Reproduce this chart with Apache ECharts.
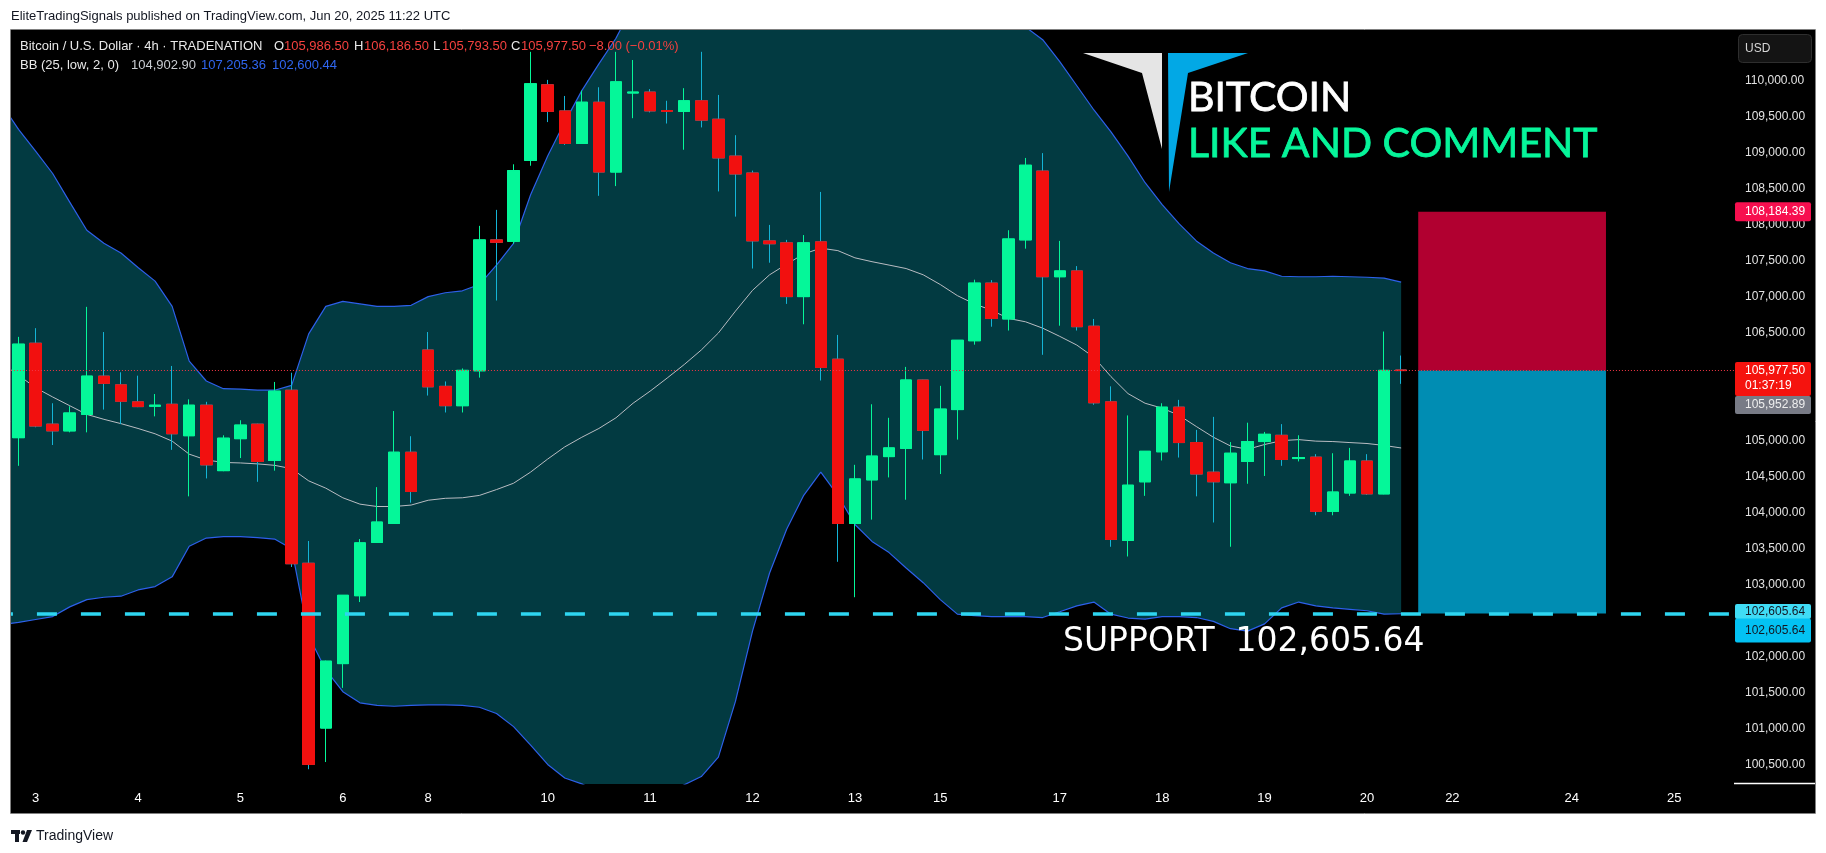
<!DOCTYPE html>
<html><head><meta charset="utf-8">
<script src="https://cdn.jsdelivr.net/npm/echarts@6/dist/echarts.min.js"></script>
<style>html,body{margin:0;padding:0;background:#fff;overflow:hidden}#c{width:1826px;height:853px}</style>
</head><body><div id="c"></div>
<script>
// ---- data (4h candles, Jun 3 .. Jun 20, 2025) ----
const openP  = [105046,106358,105234,105140,105369,105901,105780,105544,105483,105510,105073,105497,104588,105032,105234,104729,105705,103302,101013,101908,102851,103591,103854,104844,106264,105759,105490,105975,107793,107773,108897,109947,109584,109132,109705,108735,109833,109846,109590,109577,109725,109469,108957,108722,107779,107752,107005,107766,106136,103854,104460,104783,104897,105847,104810,105436,106392,107193,106695,107793,108749,107281,107362,106594,105544,103618,104433,104850,105470,104978,104567,104420,104716,104992,105079,104756,104776,104022,104278,104722,104265,105986.5];
const highP  = [106446,106567,105524,105483,106863,106513,105954,105907,105652,106042,105578,105544,105079,105288,105240,105820,105948,103611,101950,102860,103638,104359,105416,105066,106513,105827,106008,107988,108210,108843,110405,110015,109792,109866,109913,110405,110291,109887,109725,109900,110405,109806,109247,108755,108001,107793,107860,108459,106473,104669,105510,105322,106029,105850,105766,106400,107240,107234,107927,108931,108998,107779,107429,106695,105759,105355,104860,105524,105571,105154,105335,104985,105254,105126,105234,105079,104817,104830,104904,104817,106520,106186.5];
const lowP   = [104655,105190,104944,105120,105120,105436,105234,105470,105342,104877,104231,104480,104580,104763,104433,104588,103250,100441,100541,101571,102763,103585,103850,104143,105631,105396,105396,105880,106951,107739,108823,109429,109112,109132,108405,108540,109483,109563,109409,109045,109355,108466,108116,107395,107476,106904,106621,105840,103322,102830,103908,104494,104184,104743,104541,105019,106338,106587,106534,107671,106197,106601,106534,105503,103531,103396,104238,104729,104770,104231,103868,103531,104406,104514,104655,104716,103968,103968,104238,104251,104260,105793.5];
const closeP = [106345,105207,105140,105389,105901,105800,105551,105477,105497,105100,105497,104668,105039,105221,104716,105692,103295,100508,101942,102857,103585,103874,104844,104298,105752,105490,105981,107793,107759,108755,109961,109577,109132,109705,108735,109988,109846,109584,109577,109725,109456,108931,108708,107779,107739,107005,107752,106022,103854,104473,104790,104904,105847,105147,105443,106399,107193,106702,107806,108830,107281,107362,106587,105530,103632,104386,104857,105470,104978,104541,104433,104830,104992,105093,104743,104770,104022,104291,104722,104265,105981,105977.5];
// Bollinger Bands (25, low, 2): first value is the bar just left of the visible range
const bbUpper = [109680,109328,109025,108715,108318,107927,107746,107611,107409,107220,106870,106109,105833,105726,105719,105705,105705,105773,106487,106870,106938,106904,106870,106870,106884,107005,107059,107086,107173,107443,107746,108419,108957,109429,109866,110237,110594,111048,111364,111648,111899,112189,112391,112223,111825,111449,111139,110949,110788,111043,111248,111375,111436,111555,111584,111549,111443,111233,111071,110843,110749,110573,110270,109934,109597,109294,108957,108587,108284,108015,107779,107611,107476,107395,107362,107288,107281,107281,107288,107281,107274,107261,107205.36];
const bbBasis = [106080,105914,105739,105611,105490,105369,105301,105241,105174,105100,104998,104817,104736,104702,104695,104682,104662,104615,104446,104345,104211,104123,104090,104090,104110,104177,104204,104211,104244,104325,104413,104568,104749,104918,105052,105174,105322,105524,105692,105874,106062,106264,106500,106803,107092,107308,107456,107597,107678,107644,107544,107490,107443,107395,107308,107173,107019,106904,106816,106702,106655,106567,106453,106332,106163,105894,105658,105524,105456,105355,105201,105052,104931,104884,104951,105005,105019,104998,104992,104978,104965,104938,104902.90];
const bbLower = [102450,102480,102521,102561,102696,102797,102830,102844,102931,102978,103113,103537,103652,103672,103672,103658,103638,103504,102292,101820,101518,101363,101329,101316,101329,101336,101336,101329,101302,101215,101033,100777,100508,100319,100238,100111,100050,100000,100020,100100,100225,100339,100609,101383,102359,103167,103773,104245,104568,104245,103840,103605,103450,103235,103032,102797,102595,102575,102561,102561,102561,102548,102628,102709,102763,102595,102541,102527,102561,102561,102548,102494,102393,102359,102460,102682,102763,102709,102682,102662,102642,102595,102600.44];
const dayLabels   = ['3','4','5','6','8','10','11','12','13','15','17','18','19','20','22','24','25'];
const dayLabelIdx = [1,7,13,19,24,31,37,43,49,54,61,67,73,79,84,91,97];
const yTicks = [100500,101000,101500,102000,102500,103000,103500,104000,104500,105000,105500,106000,106500,107000,107500,108000,108500,109000,109500,110000];
const supportLevel = 102605.64;
const lastPrice = 105977.50;
const targetPrice = 108184.39;
const markPrice = 105952.89;
const positionStart = 82, positionEnd = 93;
const slotCount = 101;

// ---- build (slot 0 = the partly hidden bar before candle 0) ----
const categories = [];
for (let i = 0; i <= slotCount; i++) categories.push(String(i - 1));
const labelMap = {};
dayLabelIdx.forEach((idx, k) => { labelMap[idx + 1] = dayLabels[k]; });
const fmt = v => Number(v).toLocaleString('en-US', {minimumFractionDigits: 2, maximumFractionDigits: 2});

const fullCandles = ['-'].concat(openP.map((o, i) => [o, closeP[i], lowP[i], highP[i]]));
const bodyCandles = ['-'].concat(openP.map((o, i) => [o, closeP[i], Math.min(o, closeP[i]), Math.max(o, closeP[i])]));
const bandWidth = bbUpper.map((u, i) => u - bbLower[i]);

const GREEN = '#05f799', RED = '#f2100f', CYAN = '#14b4d6';
const FONT = '"Liberation Sans", Arial, sans-serif';
const SLOT = 1724 / 101;

const chart = echarts.init(document.getElementById('c'), null, {renderer: 'canvas'});
chart.setOption({
  animation: false,
  backgroundColor: '#ffffff',
  grid: {left: 10 - SLOT, top: 30, width: 1724 + SLOT, height: 754, containLabel: false, outerBoundsMode: 'none'},
  xAxis: {
    type: 'category', data: categories, boundaryGap: true,
    axisLine: {show: false}, axisTick: {show: false}, splitLine: {show: false},
    axisLabel: {
      interval: (idx) => labelMap[idx] !== undefined,
      formatter: (val, idx) => labelMap[idx] || '',
      color: '#ffffff', fontSize: 13, fontFamily: FONT, margin: 8, hideOverlap: false
    }
  },
  yAxis: {
    type: 'value', position: 'right', min: 100236, max: 110708, scale: true,
    axisLine: {show: false}, axisTick: {show: false}, splitLine: {show: false},
    axisLabel: {customValues: yTicks, formatter: v => fmt(v), color: '#e2e2e2', fontSize: 12, fontFamily: FONT, margin: 11}
  },
  series: [
    {name: 'bbBase', type: 'line', data: bbLower, stack: 'bb', symbol: 'none', silent: true,
     lineStyle: {width: 0, opacity: 0}, z: 1},
    {name: 'bbFill', type: 'line', data: bandWidth, stack: 'bb', symbol: 'none', silent: true,
     lineStyle: {width: 0, opacity: 0}, areaStyle: {color: '#023a41', opacity: 1}, z: 1},
    {name: 'upper', type: 'line', data: bbUpper, symbol: 'none', silent: true,
     lineStyle: {color: '#2d60ea', width: 1.2}, z: 2},
    {name: 'lower', type: 'line', data: bbLower, symbol: 'none', silent: true,
     lineStyle: {color: '#2d60ea', width: 1.2}, z: 2},
    {name: 'basis', type: 'line', data: bbBasis, symbol: 'none', silent: true,
     lineStyle: {color: '#b9bcc2', width: 1}, z: 2},
    {name: 'wicks', type: 'candlestick', data: fullCandles, barWidth: 12, silent: true,
     itemStyle: {color: GREEN, color0: RED, borderColor: GREEN, borderColor0: CYAN, borderWidth: 1}, z: 3},
    {name: 'bodies', type: 'candlestick', data: bodyCandles, barWidth: 12, silent: true,
     itemStyle: {color: GREEN, color0: RED, borderColor: GREEN, borderColor0: RED, borderWidth: 1}, z: 4},
    {name: 'position', type: 'line', data: [], symbol: 'none', silent: true, z: 4,
     markArea: {silent: true, data: [
       [{xAxis: String(positionStart), yAxis: targetPrice, itemStyle: {color: '#b10030', opacity: 1}},
        {xAxis: String(positionEnd), yAxis: lastPrice}],
       [{xAxis: String(positionStart), yAxis: lastPrice, itemStyle: {color: '#008db3', opacity: 1}},
        {xAxis: String(positionEnd), yAxis: supportLevel}]
     ]}},
    {name: 'levels', type: 'line', data: [], symbol: 'none', silent: true, z: 6,
     markLine: {silent: true, symbol: ['none', 'none'], label: {show: false}, data: [
       {yAxis: supportLevel, lineStyle: {color: '#2ed6f1', width: 3.5, type: [20, 24]}},
       {yAxis: lastPrice, lineStyle: {color: '#f23645', width: 1, type: [1, 2]}}
     ]}}
  ]
});

// ---- overlay (panel, legend, tags, logo) ----
const yPx = v => chart.convertToPixel({yAxisIndex: 0}, v);
const yT = yPx(targetPrice), yL = yPx(lastPrice), yS = yPx(supportLevel);
const txt = (text, x, y, fill, size) => ({
  type: 'text', x: x, y: y, z: 100,
  style: {text: text, fill: fill, font: (size || 13) + 'px ' + FONT, align: 'left', verticalAlign: 'middle'}
});
const tag = (x, y, w, h, fill, lines, textFill) => {
  const els = [{type: 'rect', z: 90, shape: {x: x, y: y, width: w, height: h, r: 2}, style: {fill: fill}}];
  lines.forEach(l => els.push(txt(l[0], 1745, l[1], textFill, 12)));
  return els;
};

const g = [
  // panel background
  {type: 'rect', z: -100, shape: {x: 11, y: 30, width: 1804, height: 783}, style: {fill: '#000000'}},
  {type: 'rect', z: 98, shape: {x: 0, y: 0, width: 10.5, height: 853}, style: {fill: '#ffffff'}},
  {type: 'rect', z: 99, shape: {x: 10.5, y: 29.5, width: 1805, height: 784}, style: {fill: 'none', stroke: '#808080', lineWidth: 1}},
  {type: 'line', z: 99, shape: {x1: 1734, y1: 783.5, x2: 1815, y2: 783.5}, style: {stroke: '#ffffff', lineWidth: 1.5}},
  // page header
  txt('EliteTradingSignals published on TradingView.com, Jun 20, 2025 11:22 UTC', 11, 16, '#131722', 13),
  // legend line 1
  txt('Bitcoin / U.S. Dollar \u00b7 4h \u00b7 TRADENATION', 20, 46.5, '#e8e8e8', 13),
  txt('O', 274, 46.5, '#e8e8e8', 13), txt('105,986.50', 284, 46.5, '#f5413f', 13),
  txt('H', 354, 46.5, '#e8e8e8', 13), txt('106,186.50', 364, 46.5, '#f5413f', 13),
  txt('L', 433, 46.5, '#e8e8e8', 13), txt('105,793.50', 442, 46.5, '#f5413f', 13),
  txt('C', 511, 46.5, '#e8e8e8', 13), txt('105,977.50', 521, 46.5, '#f5413f', 13),
  txt('\u22128.00 (\u22120.01%)', 589, 46.5, '#f5413f', 13),
  // legend line 2
  txt('BB (25, low, 2, 0)', 20, 65.5, '#e8e8e8', 13),
  txt('104,902.90', 131, 65.5, '#c9ccd2', 13),
  txt('107,205.36', 201, 65.5, '#2f66f0', 13),
  txt('102,600.44', 272, 65.5, '#2f66f0', 13),
  // USD box
  {type: 'rect', z: 90, shape: {x: 1738.5, y: 34.5, width: 73, height: 28, r: 4}, style: {fill: '#141414', stroke: '#2e2e2e', lineWidth: 1}},
  txt('USD', 1745, 48.5, '#d6d6d6', 12),
  // logo
  {type: 'polygon', z: 80, shape: {points: [[1083, 53], [1162, 53], [1162, 149], [1142, 73]]}, style: {fill: '#e5e5e5'}},
  {type: 'polygon', z: 80, shape: {points: [[1168, 53], [1248, 53], [1188, 73], [1169, 192]]}, style: {fill: '#02a8e5'}},
  {type: 'text', z: 100, x: 1188, y: 98, style: {text: 'BITCOIN', fill: '#ffffff', font: '41px Lato, "DejaVu Sans", sans-serif', align: 'left', verticalAlign: 'middle', stroke: '#ffffff', lineWidth: 0.8}},
  {type: 'text', z: 100, x: 1188, y: 144, style: {text: 'LIKE AND COMMENT', fill: '#06f59a', font: '41px Lato, "DejaVu Sans", sans-serif', align: 'left', verticalAlign: 'middle', stroke: '#06f59a', lineWidth: 0.8}},
  // support annotation
  {type: 'text', z: 100, x: 1063, y: 642, style: {text: 'SUPPORT  102,605.64', fill: '#ffffff', font: '33px "DejaVu Sans", sans-serif', align: 'left', verticalAlign: 'middle'}},
  // TradingView footer
  {type: 'rect', z: 10, shape: {x: 11, y: 830, width: 9, height: 4}, style: {fill: '#131722'}},
  {type: 'rect', z: 10, shape: {x: 15, y: 830, width: 4, height: 12}, style: {fill: '#131722'}},
  {type: 'circle', z: 10, shape: {cx: 23, cy: 832.5, r: 2.2}, style: {fill: '#131722'}},
  {type: 'polygon', z: 10, shape: {points: [[27, 830], [32, 830], [27, 842], [22.5, 842]]}, style: {fill: '#131722'}},
  txt('TradingView', 36, 836, '#131722', 14)
];
// axis price tags
tag(1735, yT - 9.5, 76, 19, '#f70f4f', [['108,184.39', yT]], '#ffffff').forEach(e => g.push(e));
tag(1735, yL - 8.5, 76, 34, '#f5130e', [['105,977.50', yL], ['01:37:19', yL + 15]], '#ffffff').forEach(e => g.push(e));
tag(1735, yL + 25.5, 76, 18, '#787b86', [[fmt(markPrice), yL + 34.5]], '#eeeeee').forEach(e => g.push(e));
tag(1735, yS - 9.5, 76, 15, '#40dcf5', [[fmt(supportLevel), yS - 1.5]], '#131722').forEach(e => g.push(e));
tag(1735, yS + 5, 76, 24, '#03c2f3', [[fmt(supportLevel), yS + 17]], '#131722').forEach(e => g.push(e));

chart.setOption({graphic: {elements: g}});
</script></body></html>
